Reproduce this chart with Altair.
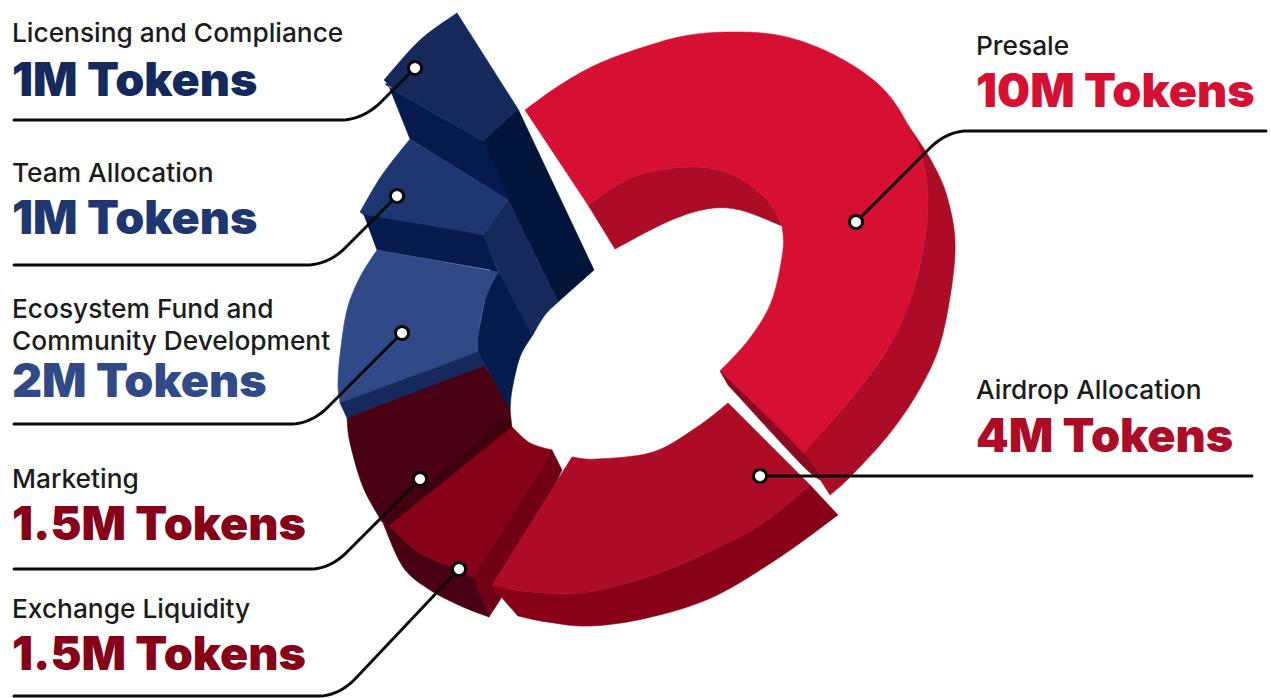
import altair as alt
import pandas as pd

# Allocation captions: caption lines, amount, text colour, left edge, baselines
ALLOC_NAMES = [["Licensing and Compliance"], ["Team Allocation"],
               ["Ecosystem Fund and", "Community Development"], ["Marketing"],
               ["Exchange Liquidity"], ["Presale"], ["Airdrop Allocation"]]
ALLOC_AMOUNTS = ["1M Tokens", "1M Tokens", "2M Tokens", "1.5M Tokens", "1.5M Tokens", "10M Tokens", "4M Tokens"]
AMOUNT_COLOURS = ["#15295c", "#1f3771", "#2f4a87", "#860018", "#860018", "#d61032", "#ac0c25"]
CAPTION_X = [12, 12, 12, 12, 12, 976, 976]
CAPTION_BASE = [[42], [182], [318, 350], [488], [618], [55], [399]]
AMOUNT_BASE = [96, 234, 397, 540, 670, 107, 452]

# Faces of the ring, back to front: (colour, runs); each run is one straight or curved edge
FACES = [
    ("#ac0c25", [[(908, 125), (922, 158), (928, 200), (923, 250), (910, 300), (887, 350), (850, 400), (803, 453)],
                 [(803, 453), (830, 495)],
                 [(830, 495), (850, 477), (890, 433), (923, 383), (943, 333), (955, 253), (948, 200), (932, 162), (908, 125)]]),
    ("#ac0c25", [[(588, 205), (633, 177), (690, 167), (733, 175), (767, 200), (782, 226)],
                 [(782, 226), (740, 210), (707, 209), (667, 222), (615, 249)],
                 [(615, 249), (588, 205)]]),
    ("#d61032", [[(525, 110), (560, 85), (600, 63), (650, 45), (690, 35), (733, 32), (777, 35), (817, 47), (857, 68), (887, 93), (908, 125), (922, 158), (928, 200), (923, 250), (907, 310), (887, 350), (850, 400), (803, 453)],
                 [(803, 453), (720, 371)],
                 [(720, 371), (750, 338), (772, 300), (783, 250), (782, 226)],
                 [(782, 226), (767, 200), (733, 175), (690, 167), (633, 177), (588, 205)],
                 [(588, 205), (525, 110)]]),
    ("#8b0a20", [[(720, 371), (803, 453), (820, 480)], [(820, 480), (800, 463), (728, 385)], [(728, 385), (720, 371)]]),
    ("#001539", [[(483, 141), (518, 109)], [(518, 109), (594, 270)], [(594, 270), (558, 302)], [(558, 302), (508, 200)], [(508, 200), (483, 141)]]),
    ("#051a4d", [[(388, 84), (394, 90), (483, 141)], [(483, 141), (497, 170), (508, 200)], [(508, 200), (410, 139)], [(410, 139), (388, 84)]]),
    ("#15295c", [[(384, 80), (420, 40), (457, 13)], [(457, 13), (518, 109)], [(518, 109), (483, 141)], [(483, 141), (394, 90)], [(394, 90), (384, 80)]]),
    ("#051a4d", [[(492, 262), (536, 328)], [(532, 336), (520, 357), (512, 390), (510, 412)], [(510, 412), (486, 367)], [(486, 367), (478, 352)], [(478, 352), (478, 337), (485, 300), (492, 262)]]),
    ("#15295c", [[(483, 235), (508, 200)], [(508, 200), (558, 302)], [(558, 302), (545, 315), (532, 336)], [(532, 336), (498, 270)], [(498, 270), (483, 235)]]),
    ("#1f3771", [[(360, 212), (382, 175), (410, 139)], [(410, 139), (508, 200)], [(508, 200), (483, 235)], [(483, 235), (365, 216)], [(365, 216), (360, 212)]]),
    ("#051a4d", [[(364, 215), (483, 235)], [(483, 235), (498, 271)], [(498, 271), (377, 250)], [(377, 250), (364, 215)]]),
    ("#2f4a87", [[(377, 250), (360, 277), (347, 310), (340, 355), (338, 385), (340, 403)], [(340, 403), (478, 352)], [(478, 352), (478, 337), (485, 300), (498, 272)], [(498, 272), (377, 250)]]),
    ("#15295c", [[(340, 403), (478, 352)], [(478, 352), (486, 367)], [(486, 367), (347, 418)], [(347, 418), (340, 403)]]),
    ("#4a0013", [[(347, 418), (485, 366)], [(485, 366), (510, 410)], [(510, 410), (512, 428)], [(512, 428), (390, 525)], [(390, 525), (382, 522)],
                 [(382, 522), (363, 487), (350, 443), (347, 418)]]),
    ("#3f0010", [[(506, 416), (512, 428)], [(512, 428), (390, 525)], [(390, 525), (384, 523)], [(384, 523), (506, 416)]]),
    ("#6f0015", [[(552, 450), (562, 470)], [(562, 470), (500, 600)], [(500, 600), (489, 617)], [(489, 617), (473, 577)], [(473, 577), (552, 450)]]),
    ("#4a0013", [[(383, 523), (403, 567), (430, 590), (463, 607), (489, 617)], [(489, 617), (473, 577)], [(473, 577), (452, 567), (420, 553), (397, 533), (390, 525)], [(390, 525), (383, 523)]]),
    ("#860018", [[(390, 525), (512, 427)], [(512, 427), (530, 443), (552, 450)], [(552, 450), (473, 577)], [(473, 577), (452, 567), (420, 553), (397, 533), (390, 525)]]),
    ("#870018", [[(492, 585), (523, 591), (580, 593), (647, 577), (713, 550), (763, 523), (810, 485)], [(810, 485), (838, 515)],
                 [(838, 515), (780, 557), (713, 597), (647, 618), (590, 626), (547, 622), (518, 616)], [(518, 616), (502, 598)], [(502, 598), (492, 585)]]),
    ("#ac0c25", [[(728, 403), (697, 427), (653, 452), (597, 459), (572, 457)], [(572, 457), (492, 585)],
                 [(492, 585), (523, 591), (580, 593), (647, 577), (713, 550), (763, 523), (810, 485)], [(810, 485), (728, 403)]]),
]

# Leader lines: a straight rule, a bend given by its three Bezier controls, a straight run to the dot
LEADERS = [
    [[(14, 120), (340, 120)], [(340, 120), (362, 120), (380, 103)], [(380, 103), (415, 68)]],
    [[(14, 265), (305, 265)], [(305, 265), (328, 265), (345, 248)], [(345, 248), (397, 196)]],
    [[(14, 424), (290, 424)], [(290, 424), (311, 424), (328, 407)], [(328, 407), (402, 333)]],
    [[(14, 569), (310, 569)], [(310, 569), (330, 569), (347, 552)], [(347, 552), (420, 479)]],
    [[(14, 696), (318, 696)], [(318, 696), (339, 696), (356, 678)], [(356, 678), (459, 569)]],
    [[(1266, 131), (968, 131)], [(968, 131), (947, 131), (930, 148)], [(930, 148), (856, 222)]],
    [[(1252, 476), (760, 476)]],
]
DOTS_X = [415, 397, 402, 420, 459, 856, 760]
DOTS_Y = [68, 196, 333, 479, 569, 222, 476]

X_SCALE = alt.Scale(domain=[0, 1271], range=[0, 1271])
Y_SCALE = alt.Scale(domain=[0, 698], range=[0, 698])


def smooth_run(run, steps=10):
    """Round a run of outline vertices with a Catmull-Rom spline; two-point runs stay straight."""
    if len(run) < 3:
        return list(run)
    padded = [run[0]] + list(run) + [run[-1]]
    out = []
    for i in range(1, len(padded) - 2):
        p0, p1, p2, p3 = padded[i - 1], padded[i], padded[i + 1], padded[i + 2]
        for k in range(steps):
            t = k / steps
            out.append(tuple(
                0.5 * (2 * p1[a] + (p2[a] - p0[a]) * t
                       + (2 * p0[a] - 5 * p1[a] + 4 * p2[a] - p3[a]) * t ** 2
                       + (3 * p1[a] - p0[a] - 3 * p2[a] + p3[a]) * t ** 3)
                for a in (0, 1)))
    out.append(run[-1])
    return out


def bend(run, steps=14):
    """Quadratic Bezier through a three-point bend, or the run itself if it is straight."""
    if len(run) != 3:
        return list(run)
    p0, p1, p2 = run
    return [tuple((1 - t) ** 2 * p0[a] + 2 * t * (1 - t) * p1[a] + t ** 2 * p2[a] for a in (0, 1))
            for t in (k / steps for k in range(steps + 1))]


face_rows = []
for idx, (colour, runs) in enumerate(FACES):
    pts = [p for run in runs for p in smooth_run(run)]
    for seq, (x, y) in enumerate(pts):
        face_rows.append({"face": f"f{idx:02d}", "seq": seq, "x": x, "y": y, "colour": colour})

leader_rows = []
for idx, runs in enumerate(LEADERS):
    pts = [p for run in runs for p in bend(run)]
    for seq, (x, y) in enumerate(pts):
        leader_rows.append({"leader": idx, "seq": seq, "x": x, "y": y})

caption_rows = []
amount_rows = []
for names, amount, colour, x, bases, base in zip(ALLOC_NAMES, ALLOC_AMOUNTS, AMOUNT_COLOURS, CAPTION_X, CAPTION_BASE, AMOUNT_BASE):
    for name, b in zip(names, bases):
        caption_rows.append({"text": name, "x": x, "y": b})
    amount_rows.append({"text": amount, "x": x, "y": base, "colour": colour})

x_enc = alt.X("x:Q", scale=X_SCALE, axis=None)
y_enc = alt.Y("y:Q", scale=Y_SCALE, axis=None)

faces = alt.Chart(pd.DataFrame(face_rows)).mark_line(filled=True, strokeWidth=0.6, strokeJoin="round").encode(
    x=x_enc, y=y_enc, order="seq:Q", detail="face:N",
    fill=alt.Fill("colour:N", scale=None, legend=None),
    stroke=alt.Stroke("colour:N", scale=None, legend=None),
)

leaders = alt.Chart(pd.DataFrame(leader_rows)).mark_line(color="#0a0a0a", strokeWidth=3, strokeCap="round", strokeJoin="round").encode(
    x=x_enc, y=y_enc, order="seq:Q", detail="leader:N",
)

dots = alt.Chart(pd.DataFrame({"x": DOTS_X, "y": DOTS_Y})).mark_point(
    shape="circle", filled=True, fill="#ffffff", stroke="#0a0a0a", strokeWidth=3, size=175, opacity=1,
).encode(x=x_enc, y=y_enc)

captions = alt.Chart(pd.DataFrame(caption_rows)).mark_text(
    font="Inter", fontSize=26.3, fontWeight=500, align="left", baseline="alphabetic", color="#1c1c1c",
).encode(x=x_enc, y=y_enc, text="text:N")

amounts = alt.Chart(pd.DataFrame(amount_rows)).mark_text(
    font="Inter", fontSize=46.6, fontWeight=900, align="left", baseline="alphabetic",
).encode(x=x_enc, y=y_enc, text="text:N", color=alt.Color("colour:N", scale=None, legend=None))

chart = alt.layer(faces, leaders, dots, captions, amounts).properties(
    width=1271, height=698, padding=0, autosize=alt.AutoSizeParams(type="none"),
    background="#ffffff",
).configure_view(stroke=None)

chart.save("out.html", embed_options={"renderer": "svg", "actions": False})
